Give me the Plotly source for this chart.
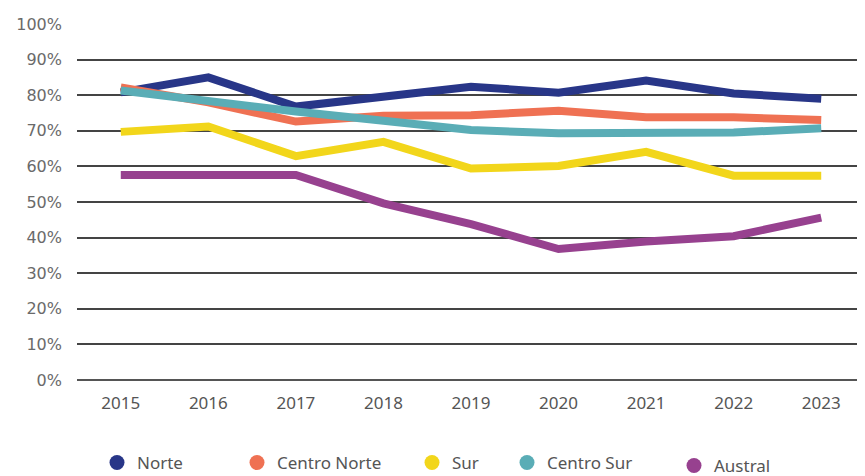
import plotly.graph_objects as go

years = ["2015", "2016", "2017", "2018", "2019", "2020", "2021", "2022", "2023"]
norte = [80.8, 85.0, 76.8, 79.4, 82.4, 80.7, 84.1, 80.5, 79.0]
centro_norte = [82.2, 78.0, 72.6, 74.2, 74.4, 75.6, 73.8, 73.8, 73.0]
sur = [69.7, 71.2, 62.9, 66.9, 59.4, 60.1, 64.1, 57.4, 57.4]
centro_sur = [81.3, 78.2, 75.4, 72.8, 70.2, 69.3, 69.6, 69.5, 70.7]
austral = [57.6, 57.6, 57.6, 49.6, 43.8, 36.8, 38.9, 40.4, 45.6]

series = [
    ("Norte", norte, "#283688"),
    ("Centro Norte", centro_norte, "#ef7153"),
    ("Sur", sur, "#f2d61b"),
    ("Centro Sur", centro_sur, "#5aadb6"),
    ("Austral", austral, "#97418f"),
]
order = [4, 2, 0, 1, 3]

OFF = 8  # default page body margin
W, H = 865 - OFF, 476 - OFF
L, R, T, B = 77 - OFF, 0, 24 - OFF, 96

fig = go.Figure()
for i in order:
    name, vals, col = series[i]
    fig.add_trace(go.Scatter(x=years, y=vals, mode="lines", name=name,
                             line=dict(color=col, width=8), showlegend=False,
                             hoverinfo="skip"))

legend_px = [117, 257, 432, 527, 694]
legend_py = [463, 463, 463, 463, 466]
for k, (name, vals, col) in enumerate(series):
    lname = "legend" if k == 0 else f"legend{k+1}"
    fig.add_trace(go.Scatter(x=[None], y=[None], mode="markers", name=name,
                             marker=dict(color=col, size=15, symbol="circle"),
                             showlegend=True, legend=lname))
    cfg = dict(x=(legend_px[k] - 20 - OFF) / W, xanchor="left", xref="container",
               y=1 - (legend_py[k] - OFF) / H, yanchor="middle", yref="container",
               orientation="h", bgcolor="rgba(0,0,0,0)",
               font=dict(family="Noto Sans", size=17, color="#555555"),
               itemwidth=30)
    fig.layout[lname] = cfg

fig.update_layout(
    width=W, height=H,
    margin=dict(l=L, r=R, t=T, b=B, autoexpand=False),
    plot_bgcolor="white", paper_bgcolor="white",
    xaxis=dict(type="category", range=[-0.5, 8.5], showgrid=False,
               zeroline=False, showline=False, ticks="", automargin=False,
               tickfont=dict(family="Noto Sans", size=17, color="#555555"),
               ticklabelstandoff=11),
    yaxis=dict(range=[0, 100], dtick=10, ticksuffix="%", automargin=False,
               showgrid=True, gridcolor="#444444", gridwidth=1.5,
               zeroline=True, zerolinecolor="#555555", zerolinewidth=1.5,
               showline=False, ticks="",
               tickfont=dict(family="DejaVu Sans", size=16, color="#6a6a6a"),
               ticklabelstandoff=14),
)

fig.write_html("out.html")
